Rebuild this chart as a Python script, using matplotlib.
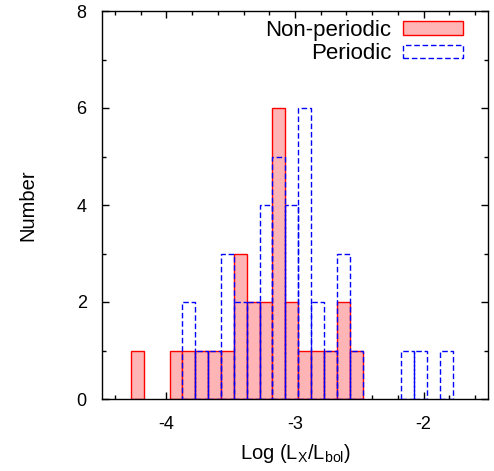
import matplotlib
matplotlib.use("Agg")
import matplotlib.pyplot as plt
from matplotlib.ticker import MultipleLocator

plt.rcParams['font.family'] = ['Liberation Sans', 'DejaVu Sans']

# bin centres (log Lx/Lbol) and counts
nonper_x = [-4.225, -3.925, -3.825, -3.725, -3.625, -3.525, -3.425, -3.325,
            -3.225, -3.125, -3.025, -2.925, -2.825, -2.725, -2.625, -2.525]
nonper_n = [1, 1, 1, 1, 1, 1, 3, 2, 2, 6, 2, 1, 1, 1, 2, 1]

per_x = [-3.825, -3.725, -3.625, -3.525, -3.425, -3.325, -3.225, -3.125,
         -3.025, -2.925, -2.825, -2.725, -2.625, -2.525, -2.125, -2.025, -1.825]
per_n = [2, 1, 1, 3, 2, 2, 4, 5, 4, 6, 2, 1, 3, 1, 1, 1, 1]

binw = 0.1

fig = plt.figure(figsize=(4.94, 4.71), dpi=100)
ax = fig.add_axes([102/494, 1 - 399/471, 386/494, 388/471])

ax.bar(nonper_x, nonper_n, width=binw, color=(1.0, 0.71, 0.71),
       edgecolor='red', linewidth=1.0, label='Non-periodic', zorder=2)
ax.bar(per_x, per_n, width=binw, facecolor='none', edgecolor='blue',
       linewidth=1.0, linestyle=(0, (4, 2)), label='Periodic', zorder=3)

ax.set_xlim(-4.5, -1.5)
ax.set_ylim(0, 8)
ax.xaxis.set_major_locator(MultipleLocator(1))
ax.xaxis.set_minor_locator(MultipleLocator(0.2))
ax.yaxis.set_major_locator(MultipleLocator(2))
ax.yaxis.set_minor_locator(MultipleLocator(1))
ax.set_axisbelow(True)
ax.tick_params(which='both', direction='in', top=True, right=True, width=1)
ax.tick_params(which='major', length=5, labelsize=13, pad=11)
ax.tick_params(axis='x', which='major', pad=12)
ax.tick_params(which='minor', length=3)
ax.set_xticks([-4, -3, -2])
ax.set_xticklabels(['-4', '-3', '-2'])
ax.set_yticks([0, 2, 4, 6, 8])
ax.set_yticklabels(['0', '2', '4', '6', '8'])
for s in ax.spines.values():
    s.set_linewidth(1)

ax.set_xlabel(r'Log (L$_\mathregular{X}$/L$_\mathregular{bol}$)', fontsize=14.5, labelpad=7)
ax.set_ylabel('Number', fontsize=14.5, labelpad=28)

ax.legend(loc='upper right', frameon=False, markerfirst=False, fontsize=16,
          handlelength=2.7, handleheight=0.55, handletextpad=0.5,
          labelspacing=0.1, borderaxespad=0.0, bbox_to_anchor=(0.957, 1.0))

fig.savefig('out.png', dpi=100)
